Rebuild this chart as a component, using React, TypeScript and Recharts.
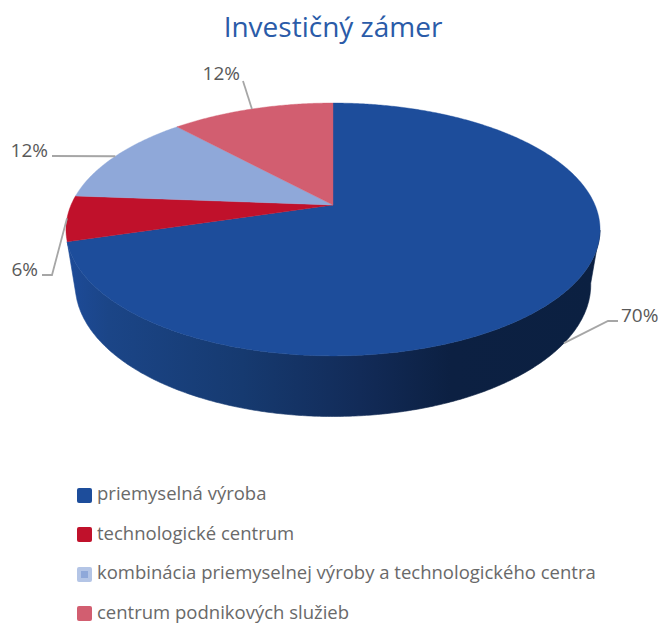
import { Cell, Legend, Pie, PieChart } from "recharts";

const names = [
  "priemyselná výroba",
  "technologické centrum",
  "kombinácia priemyselnej výroby a technologického centra",
  "centrum podnikových služieb",
];
const shares = [70.4, 5.8, 11.9, 11.9];
const colors = ["#1d4d9b", "#c0112b", "#8fa8d9", "#d25e70"];

const data = names.map((name, i) => ({ name, value: shares[i] }));

const WIDTH = 661;
const HEIGHT = 624;
const CENTER_X = 333;
const CENTER_Y = 205;
const TEXT_FONT = "'Open Sans', sans-serif";

// perspective of the tilted disc: top face and the lower rim seen under it
const TILT = 0.1935;
const FLATTEN = 121.7 / 262;
const BOTTOM_TILT = 0.21;
const BOTTOM_SCALE_X = 252 / 262;
const BOTTOM_FLATTEN = 126 / 262;
const BOTTOM_DROP = 52;

// where the leader line bends and ends, and where its text sits, per slice
const leaders = [
  { bend: [608, 321], end: [618, 321], text: [621, 315], anchor: "start" },
  { bend: [52, 275], end: [42, 275], text: [38, 269], anchor: "end" },
  { bend: [52, 156], end: [52, 156], text: [48, 150], anchor: "end" },
  { bend: [243, 81], end: [243, 81], text: [240, 73], anchor: "end" },
];

const rad = (deg: number) => (deg * Math.PI) / 180;

const topPoint = (cx: number, cy: number, r: number, deg: number) => {
  const u = Math.cos(rad(deg));
  const v = Math.sin(rad(deg));
  const d = 1 + TILT * v;
  return [cx + (r * u) / d, cy - (r * FLATTEN * v) / d];
};

const bottomPoint = (cx: number, cy: number, r: number, deg: number) => {
  const u = Math.cos(rad(deg));
  const v = Math.sin(rad(deg));
  const d = 1 + BOTTOM_TILT * v;
  return [
    cx + (r * BOTTOM_SCALE_X * u) / d,
    cy + BOTTOM_DROP - (r * BOTTOM_FLATTEN * v) / d,
  ];
};

const sweep = (start: number, end: number) => {
  const steps = Math.max(2, Math.ceil(Math.abs(end - start) * 2));
  return Array.from({ length: steps + 1 }, (_, i) => start + ((end - start) * i) / steps);
};

const toPath = (pts: number[][]) =>
  "M" + pts.map((p) => `${p[0].toFixed(2)},${p[1].toFixed(2)}`).join("L") + "Z";

const Slice3D = (props: any) => {
  const { cx, cy, outerRadius, startAngle, endAngle, fill, index } = props;
  const angles = sweep(startAngle, endAngle);
  const front = angles.filter((a) => Math.sin(rad(a)) < -TILT);
  const rim = angles.map((a) => topPoint(cx, cy, outerRadius, a));
  const wall = [
    ...front.map((a) => topPoint(cx, cy, outerRadius, a)),
    ...front.slice().reverse().map((a) => bottomPoint(cx, cy, outerRadius, a)),
  ];
  return (
    <g>
      {front.length > 1 && index === 0 && (
        <path d={toPath(wall)} fill="url(#wallShade)" stroke="url(#wallShade)" strokeWidth={0.6} />
      )}
      <path d={toPath([[cx, cy], ...rim])} fill={fill} stroke={fill} strokeWidth={0.4} />
    </g>
  );
};

const SliceLabel = (props: any) => {
  const { cx, cy, outerRadius, midAngle, value, index } = props;
  const leader = leaders[index];
  const onWall = Math.sin(rad(midAngle)) < -TILT;
  const start = onWall
    ? bottomPoint(cx, cy, outerRadius, midAngle)
    : topPoint(cx, cy, outerRadius, midAngle);
  const line = [start, leader.bend, leader.end].map((p) => p.join(",")).join(" ");
  return (
    <g>
      <polyline points={line} fill="none" stroke="#a6a6a6" strokeWidth={1.8} />
      <text
        x={leader.text[0]}
        y={leader.text[1]}
        textAnchor={leader.anchor as "start" | "end"}
        dominantBaseline="central"
        fontFamily={TEXT_FONT}
        fontSize={19}
        fill="#595959"
      >
        {Math.round(value)}%
      </text>
    </g>
  );
};

const LegendList = ({ payload }: any) => (
  <div>
    {(payload || []).map((entry: any, i: number) => (
      <div
        key={entry.value}
        style={{
          display: "flex",
          alignItems: "center",
          height: 20,
          lineHeight: "20px",
          marginBottom: i < 3 ? 19.67 : 0,
          fontFamily: TEXT_FONT,
          fontSize: 18.5,
          color: "#696969",
          whiteSpace: "nowrap",
        }}
      >
        <span
          style={{
            width: 15,
            height: 15,
            marginRight: 5,
            borderRadius: 2,
            boxSizing: "border-box",
            background: entry.color,
            border: i === 2 ? "4px solid #b4c5e6" : "none",
          }}
        />
        <span style={{ position: "relative", top: -2 }}>{entry.value}</span>
      </div>
    ))}
  </div>
);

const App = () => (
  <div style={{ position: "absolute", left: 0, top: 0 }}>
    <PieChart width={WIDTH} height={HEIGHT} margin={{ top: 0, right: 0, bottom: 0, left: 0 }}>
      <defs>
        <linearGradient id="wallShade" gradientUnits="userSpaceOnUse" x1={66} y1={0} x2={600} y2={0}>
          <stop offset="0" stopColor="#1d4b99" />
          <stop offset="0.08" stopColor="#1b4587" />
          <stop offset="0.33" stopColor="#163a70" />
          <stop offset="0.55" stopColor="#122b58" />
          <stop offset="0.72" stopColor="#0c2042" />
          <stop offset="1" stopColor="#0b2041" />
        </linearGradient>
      </defs>
      <text
        x={CENTER_X}
        y={26}
        textAnchor="middle"
        dominantBaseline="central"
        fontFamily={TEXT_FONT}
        fontSize={28}
        fill="#2a5ba8"
      >
        Investičný zámer
      </text>
      <Pie
        data={data}
        dataKey="value"
        nameKey="name"
        cx={CENTER_X}
        cy={CENTER_Y}
        innerRadius={0}
        outerRadius={262}
        startAngle={90}
        endAngle={-270}
        paddingAngle={0}
        stroke="none"
        shape={Slice3D}
        label={SliceLabel}
        labelLine={false}
        isAnimationActive={false}
      >
        {data.map((entry, index) => (
          <Cell key={`cell-${entry.name}`} fill={colors[index]} />
        ))}
      </Pie>
      <Legend
        layout="horizontal"
        align="left"
        verticalAlign="bottom"
        itemSorter={null}
        content={LegendList}
        wrapperStyle={{ left: 77, top: 485, bottom: "auto", width: 560 }}
      />
    </PieChart>
  </div>
);

export default App;
